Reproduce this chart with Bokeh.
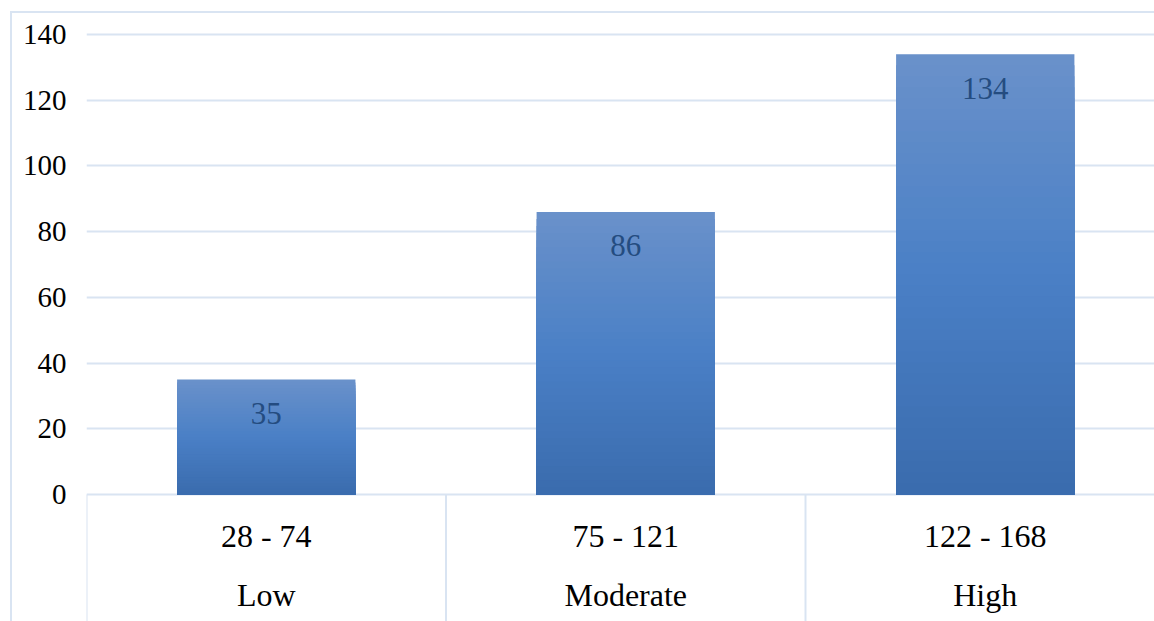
from bokeh.plotting import figure
from bokeh.models import Range1d, FixedTicker, ColumnDataSource, InlineStyleSheet
from bokeh.core.properties import value
from bokeh.embed import file_html
from bokeh.resources import INLINE

# ---- data ----
ranges = ["28 - 74", "75 - 121", "122 - 168"]
levels = ["Low", "Moderate", "High"]
counts = [35, 86, 134]
y_ticks = [0, 20, 40, 60, 80, 100, 120, 140]

# ---- layout constants ----
W, H = 1154, 621
FRAME_LEFT = 86
PX_ZERO = 494          # pixel row of y = 0
PX_TOP_TICK = 34       # pixel row of y = 140
CAT_PX = 359.5         # pixel width of one category
ppu = (PX_ZERO - PX_TOP_TICK) / 140.0
y_max = 140 + PX_TOP_TICK / ppu
y_min = -(H - PX_ZERO) / ppu
x_max = (W - FRAME_LEFT) / CAT_PX

FONT = "Liberation Serif"
GRID = "#d9e4f2"

border_css = InlineStyleSheet(css="""
:host { position: relative; }
:host::after {
  content: ''; position: absolute; left: 10px; top: 11px;
  width: 1200px; height: 700px;
  border-left: 2px solid #d9e4f2; border-top: 2px solid #d9e4f2;
  pointer-events: none; box-sizing: border-box;
}
""")

p = figure(width=W, height=H, output_backend="svg", toolbar_location=None,
           x_range=Range1d(0, x_max), y_range=Range1d(y_min, y_max),
           min_border_left=FRAME_LEFT, min_border_right=0,
           min_border_top=0, min_border_bottom=0,
           x_axis_location=None, stylesheets=[border_css])
p.outline_line_color = None
p.background_fill_color = "white"
p.border_fill_color = "white"

# y axis
ax = p.yaxis[0]
ax.ticker = FixedTicker(ticks=y_ticks)
ax.axis_line_color = None
ax.major_tick_line_color = None
ax.minor_tick_line_color = None
ax.major_tick_out = 0
ax.major_tick_in = 0
ax.major_label_standoff = 20
ax.major_label_text_font = FONT
ax.major_label_text_font_size = "29px"
ax.major_label_text_color = "black"

p.xgrid.visible = False
p.ygrid.ticker = FixedTicker(ticks=y_ticks)
p.ygrid.grid_line_color = GRID
p.ygrid.grid_line_width = 2

# gradient bars: light at top, dark at bottom (stacked overlapping quads)
top_c = (0x6a, 0x91, 0xca)
mid_c = (0x4a, 0x80, 0xc6)
bot_c = (0x3a, 0x6b, 0xad)

def lerp(a, b, t):
    return tuple(int(round(a[i] + (b[i] - a[i]) * t)) for i in range(3))

def color_at(t):  # t = 0 at bottom, 1 at top
    if t < 0.5:
        c = lerp(bot_c, mid_c, t / 0.5)
    else:
        c = lerp(mid_c, top_c, (t - 0.5) / 0.5)
    return "#%02x%02x%02x" % c

N = 40
left, right, bottom, top, colors = [], [], [], [], []
for k in range(N - 1, -1, -1):
    for i, v in enumerate(counts):
        left.append(i + 0.5 - 0.248)
        right.append(i + 0.5 + 0.248)
        bottom.append(0)
        top.append(v * (k + 1) / N)
        colors.append(color_at((k + 0.5) / N))
p.quad(left=left, right=right, bottom=bottom, top=top,
       fill_color=colors, line_color=None)

# data labels
xs = [i + 0.5 for i in range(len(counts))]
src = ColumnDataSource(dict(x=xs, y=counts, t=[str(c) for c in counts]))
p.text(x="x", y="y", text="t", source=src, y_offset=34,
       text_align="center", text_baseline="middle",
       text_font=value(FONT), text_font_size="31px", text_color="#244c80")

# category separators
n = len(counts) + 1
p.segment(x0=list(range(n)), x1=list(range(n)),
          y0=[0] * n, y1=[y_min] * n, line_color=GRID, line_width=2)

# two-level category labels
p.text(x=xs, y=[0] * 3, text=ranges, y_offset=41,
       text_align="center", text_baseline="middle",
       text_font=value(FONT), text_font_size="32px", text_color="black")
p.text(x=xs, y=[0] * 3, text=levels, y_offset=100,
       text_align="center", text_baseline="middle",
       text_font=value(FONT), text_font_size="32px", text_color="black")

open("out.html", "w").write(file_html(p, INLINE))
